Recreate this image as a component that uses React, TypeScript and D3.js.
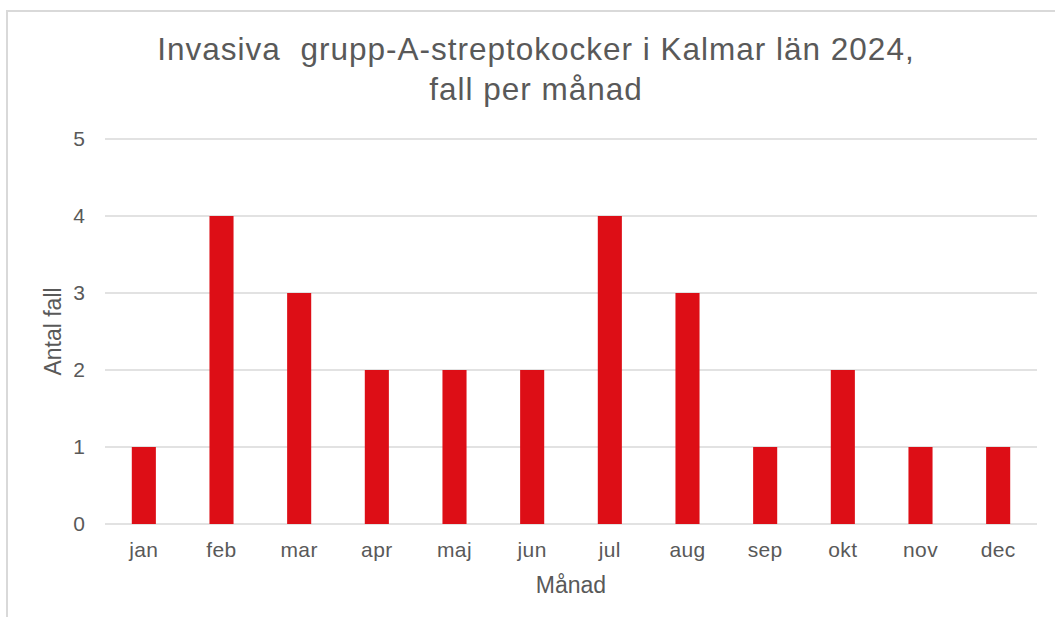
import React, { useRef, useEffect } from "react";
import * as d3 from "d3";

const months = ["jan", "feb", "mar", "apr", "maj", "jun", "jul", "aug", "sep", "okt", "nov", "dec"];
const cases = [1, 4, 3, 2, 2, 2, 4, 3, 1, 2, 1, 1];
const yTicks = [0, 1, 2, 3, 4, 5];
const titleLines = ["Invasiva  grupp-A-streptokocker i Kalmar län 2024,", "fall per månad"];

const App = () => {
  const svgRef = useRef<SVGSVGElement>(null);

  useEffect(() => {
    if (!svgRef.current) return;
    const width = 1055;
    const height = 617;
    const svg = d3.select(svgRef.current);
    svg.selectAll("*").remove();
    svg.attr("width", width).attr("height", height);

    const font = "'Liberation Sans', Arial, sans-serif";
    const textColor = "#595959";
    const gridColor = "#d9d9d9";

    // outer chart frame (right and bottom edges fall outside the picture)
    svg
      .append("rect")
      .attr("x", 7)
      .attr("y", 11)
      .attr("width", 1100)
      .attr("height", 700)
      .attr("fill", "white")
      .attr("stroke", gridColor)
      .attr("stroke-width", 2);

    const margin = { top: 139, right: 18, bottom: 93, left: 105 };
    const x = d3
      .scaleBand()
      .domain(months)
      .range([margin.left, width - margin.right])
      .paddingInner(0.69)
      .paddingOuter(0.345);
    const y = d3.scaleLinear().domain([0, 5]).range([height - margin.bottom, margin.top]);

    // gridlines
    svg
      .append("g")
      .selectAll("line")
      .data(yTicks)
      .enter()
      .append("line")
      .attr("x1", margin.left)
      .attr("x2", width - margin.right)
      .attr("y1", (d) => y(d))
      .attr("y2", (d) => y(d))
      .attr("stroke", gridColor)
      .attr("stroke-width", 1.5);

    // bars
    svg
      .append("g")
      .selectAll("rect")
      .data(cases)
      .enter()
      .append("rect")
      .attr("x", (d, i) => x(months[i])!)
      .attr("width", x.bandwidth())
      .attr("y", (d) => y(d))
      .attr("height", (d) => y(0) - y(d))
      .attr("fill", "#dd0e16");

    // y tick labels
    svg
      .append("g")
      .selectAll("text")
      .data(yTicks)
      .enter()
      .append("text")
      .attr("x", 85)
      .attr("y", (d) => y(d))
      .attr("dy", "0.35em")
      .attr("text-anchor", "end")
      .attr("font-family", font)
      .attr("font-size", 21)
      .attr("fill", textColor)
      .text((d) => d);

    // x tick labels
    svg
      .append("g")
      .selectAll("text")
      .data(months)
      .enter()
      .append("text")
      .attr("x", (d) => x(d)! + x.bandwidth() / 2)
      .attr("y", 557)
      .attr("text-anchor", "middle")
      .attr("font-family", font)
      .attr("font-size", 21)
      .attr("letter-spacing", 0.4)
      .attr("fill", textColor)
      .text((d) => d);

    // axis titles
    svg
      .append("text")
      .attr("x", (margin.left + width - margin.right) / 2)
      .attr("y", 593)
      .attr("text-anchor", "middle")
      .attr("font-family", font)
      .attr("font-size", 23)
      .attr("fill", textColor)
      .text("Månad");

    svg
      .append("text")
      .attr("transform", `translate(61, ${(y(0) + y(5)) / 2}) rotate(-90)`)
      .attr("text-anchor", "middle")
      .attr("font-family", font)
      .attr("font-size", 23)
      .attr("fill", textColor)
      .text("Antal fall");

    // title
    svg
      .append("g")
      .selectAll("text")
      .data(titleLines)
      .enter()
      .append("text")
      .attr("x", 536)
      .attr("y", (d, i) => 60 + i * 40)
      .attr("text-anchor", "middle")
      .attr("font-family", font)
      .attr("font-size", 31.5)
      .attr("letter-spacing", 1)
      .attr("fill", textColor)
      .style("white-space", "pre")
      .text((d) => d);
  }, []);

  return (
    <svg
      ref={svgRef}
      style={{ position: "absolute", left: 0, top: 0, display: "block", background: "white" }}
    ></svg>
  );
};

export default App;
